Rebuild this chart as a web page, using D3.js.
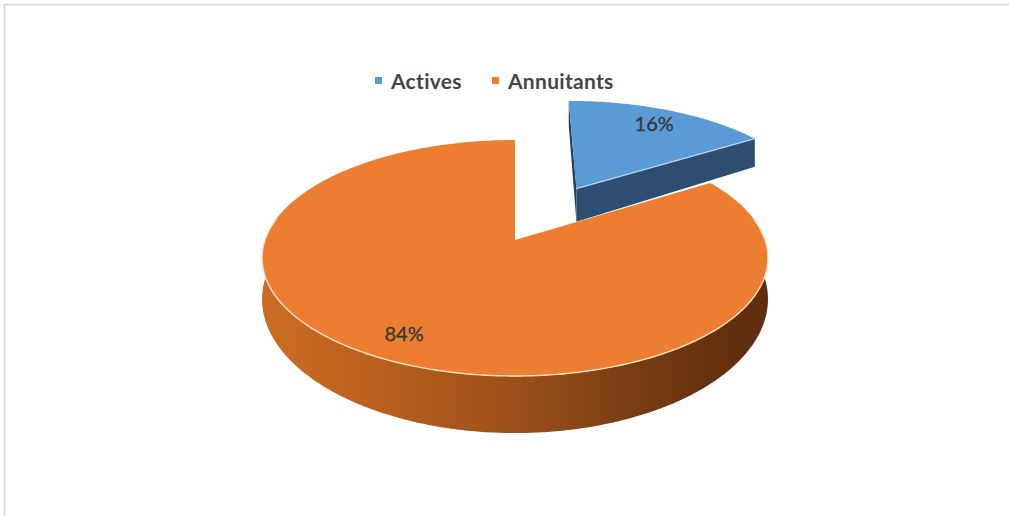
<!DOCTYPE html>
<html>
<head>
<meta charset="utf-8">
<script src="https://cdn.jsdelivr.net/npm/d3@7"></script>
<style>
  html, body { margin: 0; padding: 0; background: #ffffff; }
  svg { display: block; }
</style>
</head>
<body>
<svg id="chart" width="1009" height="516"></svg>
<script>
// Membership split
const categories = ["Actives", "Annuitants"];
const values = [16, 84];

// Styling
const colors = { Actives: "#5B9BD5", Annuitants: "#ED7D31" };
const sideColors = { Actives: "#2d4d71", Annuitants: null };
const explode = { Actives: 0.547, Annuitants: 0 };

const W = 1009, H = 516;
const svg = d3.select("#chart");

// Frame (top and left edges)
svg.append("path")
  .attr("d", `M4.5,${H} L4.5,4.5 L${W},4.5`)
  .attr("fill", "none")
  .attr("stroke", "#d4d4d4")
  .attr("stroke-width", 1.5);

// --- 3D projection of a tilted disc (unit radius) ---
const CX = 515, CY = 240;   // projected centre of the top face
const KX = 250, KY = 115.25; // horizontal / vertical scale
const Q = 6.556;            // perspective distance
const T0 = 39;              // base thickness
const persp = v => 1 / (1 - v / Q);
const thick = v => T0 * Math.pow(persp(v), 2.3);
function proj(u, v, bottom) {
  const k = persp(v);
  return [CX + KX * u * k, CY + KY * v * k + (bottom ? thick(v) : 0)];
}
// point on the rim at angle a (clockwise from 12 o'clock) around centre c
const rim = (c, a, r = 1) => [c[0] + r * Math.sin(a), c[1] - r * Math.cos(a)];
function arcPts(c, a0, a1, bottom) {
  const n = Math.max(2, Math.ceil(Math.abs(a1 - a0) / 0.01));
  return d3.range(n + 1).map(i => {
    const a = a0 + (a1 - a0) * i / n;
    const p = rim(c, a);
    return proj(p[0], p[1], bottom);
  });
}
const line = d3.line();
const closed = pts => line(pts) + "Z";

const pie = d3.pie().sort(null).value(d => d.value);
const arcs = pie(categories.map((name, i) => ({ name, value: values[i] })));
const total = d3.sum(values);
const fmt = d3.format(".0%");

const defs = svg.append("defs");
const grad = defs.append("linearGradient")
  .attr("id", "wallGrad")
  .attr("gradientUnits", "userSpaceOnUse")
  .attr("x1", CX - KX).attr("x2", CX + KX + 10).attr("y1", 0).attr("y2", 0);
[[0, "#cc6c22"], [0.25, "#b65e1d"], [0.5, "#9a4f19"], [0.72, "#7a3d13"], [0.9, "#62300e"], [1, "#5c2d0d"]]
  .forEach(([o, c]) => grad.append("stop").attr("offset", o).attr("stop-color", c));

const gPie = svg.append("g");

// draw exploded (farther) slices first
const order = arcs.slice().sort((a, b) => explode[b.data.name] - explode[a.data.name]);

order.forEach(d => {
  const name = d.data.name;
  const mid = (d.startAngle + d.endAngle) / 2;
  const c = rim([0, 0], mid, explode[name]);
  const g = gPie.append("g");
  const faceColor = sideColors[name];

  // outer wall: front-facing part only
  const w0 = Math.max(d.startAngle, Math.PI * 0.44);
  const w1 = Math.min(d.endAngle, Math.PI * 1.56);
  if (w1 > w0) {
    const top = arcPts(c, w0, w1, false);
    const bot = arcPts(c, w1, w0, true);
    g.append("path").attr("d", closed(top.concat(bot)))
      .attr("fill", faceColor || "url(#wallGrad)");
  }

  // radial cut faces (visible only on the exploded slice)
  if (explode[name] > 0) {
    [d.startAngle, d.endAngle].forEach((a, i) => {
      const r = rim(c, a);
      const pts = [proj(c[0], c[1], false), proj(r[0], r[1], false),
                   proj(r[0], r[1], true), proj(c[0], c[1], true)];
      g.append("path").attr("d", closed(pts))
        .attr("fill", i === 0 ? "#244061" : faceColor);
    });
  }

  // top face
  const topPts = [proj(c[0], c[1], false)].concat(arcPts(c, d.startAngle, d.endAngle, false));
  g.append("path").attr("d", closed(topPts)).attr("fill", colors[name]);

  // bevel highlight along visible edges
  if (explode[name] > 0) {
    const r = rim(c, d.endAngle);
    g.append("path").attr("d", line([proj(c[0], c[1], false), proj(r[0], r[1], false)]))
      .attr("fill", "none").attr("stroke", "#b9d4f0").attr("stroke-width", 1.3);
  } else if (w1 > w0) {
    g.append("path").attr("d", line(arcPts(c, w0, w1, false)))
      .attr("fill", "none").attr("stroke", "#fde3c6").attr("stroke-width", 1.4);
  }

  // percentage label
  const lp = rim(c, mid, 0.82);
  const p = proj(lp[0], lp[1], false);
  svg.append("text")
    .attr("x", p[0]).attr("y", p[1])
    .attr("text-anchor", "middle")
    .attr("dominant-baseline", "central")
    .attr("font-family", "Lato, 'Open Sans', sans-serif")
    .attr("font-size", 20)
    .attr("fill", "#383838")
    .attr("stroke", "#383838")
    .attr("stroke-width", 0.3)
    .text(fmt(d.value / total));
});

// Legend
const legendX = [375, 492];
const legend = svg.append("g");
categories.forEach((name, i) => {
  legend.append("rect")
    .attr("x", legendX[i]).attr("y", 77)
    .attr("width", 7).attr("height", 7)
    .attr("fill", colors[name]);
  legend.append("text")
    .attr("x", legendX[i] + 16).attr("y", 80.5)
    .attr("dominant-baseline", "central")
    .attr("font-family", "Lato, 'Open Sans', sans-serif")
    .attr("font-weight", 700)
    .attr("font-size", 21)
    .attr("letter-spacing", 0.3)
    .attr("fill", "#454545")
    .text(name);
});
</script>
</body>
</html>
